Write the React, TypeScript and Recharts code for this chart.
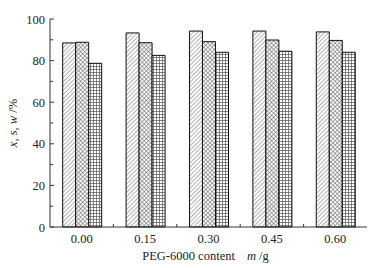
import { BarChart, Bar, XAxis, YAxis, Label } from 'recharts';

const categories = ['0.00', '0.15', '0.30', '0.45', '0.60'];
const xValues = [88.5, 93.3, 94.2, 94.2, 93.8];
const sValues = [88.8, 88.6, 89.1, 89.9, 89.7];
const wValues = [78.7, 82.5, 84.0, 84.5, 84.0];
const yTicks = [0, 10, 20, 30, 40, 50, 60, 70, 80, 90, 100];

const data = categories.map((c, i) => ({
  name: c,
  x: xValues[i],
  s: sValues[i],
  w: wValues[i],
}));

const FONT = '"Liberation Serif", "Times New Roman", serif';
const AXIS = '#333';

function YTick(props: any) {
  const { x, y, payload } = props;
  const v = payload.value;
  const major = v % 20 === 0;
  const ax = x + 5;
  return (
    <g>
      <line x1={ax} y1={y} x2={ax + (major ? 4 : 3)} y2={y} stroke={AXIS} strokeWidth={1} />
      {major && (
        <text x={x} y={y} dy={4.5} textAnchor="end" fontFamily={FONT} fontSize={12.5} fill="#222">
          {v}
        </text>
      )}
    </g>
  );
}

function XTick(props: any) {
  const { x, y, payload, index } = props;
  const half = payload.offset || 0;
  const ay = y - 8;
  return (
    <g>
      {index > 0 && (
        <line x1={x - half} y1={ay} x2={x - half} y2={ay - 3} stroke={AXIS} strokeWidth={1} />
      )}
      <text x={x} y={y} dy={8} textAnchor="middle" fontFamily={FONT} fontSize={12.5} fill="#222">
        {payload.value}
      </text>
    </g>
  );
}

function XTitle(props: any) {
  const { viewBox } = props;
  const cx = viewBox.x + viewBox.width / 2 - 3;
  return (
    <text x={cx} y={viewBox.y + 33} textAnchor="middle" fontFamily={FONT} fontSize={12.5} fill="#222">
      PEG-6000 content
      <tspan dx={12} fontStyle="italic">m</tspan>
      <tspan> /g</tspan>
    </text>
  );
}

function YTitle(props: any) {
  const { viewBox } = props;
  const cx = 13;
  const cy = viewBox.y + viewBox.height / 2;
  return (
    <text
      x={cx}
      y={cy}
      transform={`rotate(-90, ${cx}, ${cy})`}
      dy={4}
      textAnchor="middle"
      fontFamily={FONT}
      fontSize={12.5}
      fill="#222"
    >
      <tspan fontStyle="italic">x</tspan>
      <tspan>, </tspan>
      <tspan fontStyle="italic">s</tspan>
      <tspan>, </tspan>
      <tspan fontStyle="italic">w</tspan>
      <tspan> /%</tspan>
    </text>
  );
}

export default function App() {
  return (
    <div style={{ position: 'absolute', left: 0, top: 0, width: 379, height: 268, background: '#fff' }}>
      <BarChart
        width={379}
        height={268}
        data={data}
        margin={{ top: 19, right: 12, left: 0, bottom: 0 }}
        barGap={0}
        barCategoryGap="20%"
      >
        <defs>
          <pattern id="hatch" width="3" height="3" patternUnits="userSpaceOnUse" patternTransform="rotate(45)">
            <rect width="3" height="3" fill="#fff" />
            <line x1="0" y1="0" x2="0" y2="3" stroke="#555" strokeWidth="0.9" />
          </pattern>
          <pattern id="cross" width="3" height="3" patternUnits="userSpaceOnUse" patternTransform="rotate(45)">
            <rect width="3" height="3" fill="#fff" />
            <line x1="0" y1="0" x2="0" y2="3" stroke="#444" strokeWidth="0.9" />
            <line x1="0" y1="0" x2="3" y2="0" stroke="#444" strokeWidth="0.9" />
          </pattern>
          <pattern id="grid" width="3" height="3" patternUnits="userSpaceOnUse">
            <rect width="3" height="3" fill="#fff" />
            <line x1="0.5" y1="0" x2="0.5" y2="3" stroke="#555" strokeWidth="0.7" />
            <line x1="0" y1="0.5" x2="3" y2="0.5" stroke="#555" strokeWidth="0.7" />
          </pattern>
        </defs>
        <XAxis
          dataKey="name"
          height={41}
          stroke={AXIS}
          tickLine={false}
          tickSize={0}
          tickMargin={8}
          tick={<XTick />}
          interval={0}
        >
          <Label content={<XTitle />} />
        </XAxis>
        <XAxis
          xAxisId="top"
          dataKey="name"
          orientation="top"
          height={0}
          stroke="#aaa"
          tick={false}
          tickLine={false}
        />
        <YAxis
          width={50}
          domain={[0, 100]}
          ticks={yTicks}
          interval={0}
          stroke={AXIS}
          tickLine={false}
          tickSize={0}
          tickMargin={5}
          tick={<YTick />}
        >
          <Label content={<YTitle />} />
        </YAxis>
        <YAxis
          yAxisId="right"
          orientation="right"
          width={0}
          domain={[0, 100]}
          stroke="#aaa"
          tick={false}
          tickLine={false}
        />
        <Bar dataKey="x" fill="url(#hatch)" stroke="#111" strokeWidth={1} isAnimationActive={false} />
        <Bar dataKey="s" fill="url(#cross)" stroke="#111" strokeWidth={1} isAnimationActive={false} />
        <Bar dataKey="w" fill="url(#grid)" stroke="#111" strokeWidth={1} isAnimationActive={false} />
      </BarChart>
    </div>
  );
}
